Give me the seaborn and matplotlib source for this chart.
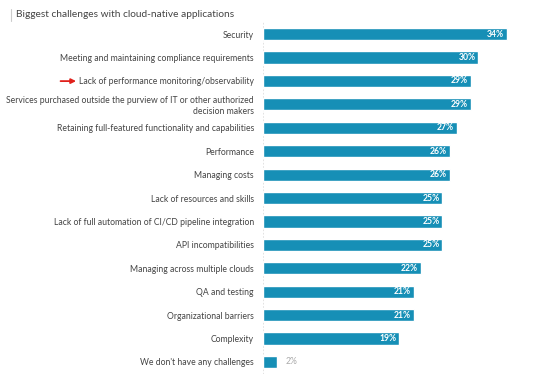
import matplotlib
matplotlib.use("Agg")
import matplotlib.pyplot as plt
import seaborn as sns
import pandas as pd

categories = [
    "Security",
    "Meeting and maintaining compliance requirements",
    "Lack of performance monitoring/observability",
    "Services purchased outside the purview of IT or other authorized\ndecision makers",
    "Retaining full-featured functionality and capabilities",
    "Performance",
    "Managing costs",
    "Lack of resources and skills",
    "Lack of full automation of CI/CD pipeline integration",
    "API incompatibilities",
    "Managing across multiple clouds",
    "QA and testing",
    "Organizational barriers",
    "Complexity",
    "We don't have any challenges",
]
values = [34, 30, 29, 29, 27, 26, 26, 25, 25, 25, 22, 21, 21, 19, 2]

title = "Biggest challenges with cloud-native applications"
bar_color = "#168fb6"

df = pd.DataFrame({"challenge": categories, "pct": values})

sns.set_style("white")
plt.rcParams["font.family"] = ["Lato", "DejaVu Sans"]

fig = plt.figure(figsize=(5.4, 3.79), dpi=100)
ax = fig.add_axes([0.487, 0.014, 0.513, 0.927])

sns.barplot(data=df, x="pct", y="challenge", color=bar_color, width=0.52,
            saturation=1, ax=ax)

ax.set_xlim(0, 38.6)
ax.set_xlabel("")
ax.set_ylabel("")
ax.set_xticks([])
sns.despine(ax=ax, left=True, bottom=True)
ax.tick_params(axis="y", length=0, pad=6.5, labelsize=6.2, labelcolor="#444444")
for lbl in ax.get_yticklabels():
    lbl.set_horizontalalignment("right")
    lbl.set_linespacing(1.3)
ax.axvline(0, color="#dddddd", lw=0.6, ls=(0, (2, 2)), zorder=0)

for i, v in enumerate(values):
    if v >= 5:
        ax.text(v - 0.4, i, f"{v}%", ha="right", va="center", color="white",
                fontsize=6.2, fontweight="bold")
    else:
        ax.text(v + 1.2, i, f"{v}%", ha="left", va="center", color="#aaaaaa",
                fontsize=6.2)

fig.text(0.03, 0.961, title, ha="left", va="center", fontsize=7.3,
         color="#444444")
fig.add_artist(plt.Line2D([0.021, 0.021], [0.945, 0.975], color="#cccccc", lw=0.8))

# red arrow pointing at the observability row
fig.add_artist(matplotlib.patches.FancyArrowPatch(
    (0.107, 0.786), (0.146, 0.786), arrowstyle="-|>", mutation_scale=7,
    color="#e0201b", lw=1.3))

fig.savefig("out.png", dpi=100)
